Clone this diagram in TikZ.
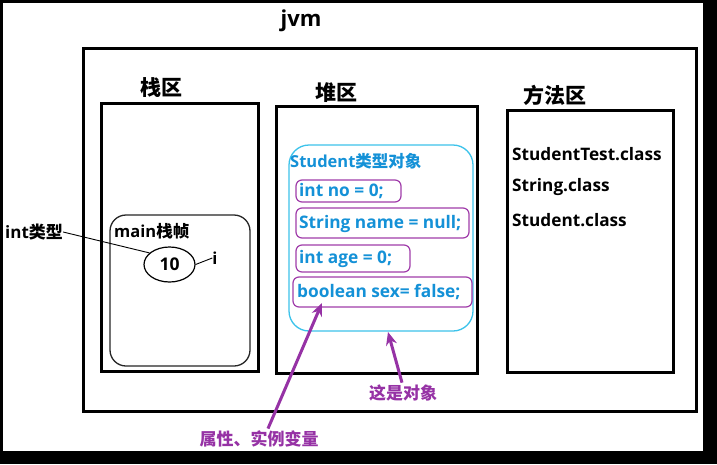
\documentclass[tikz,border=0pt]{standalone}
\usepackage{fontspec}
\setmainfont{Open Sans}
\newfontfamily\cjk{Noto Sans CJK SC}
\usetikzlibrary{arrows.meta,shapes.geometric,calc}
\definecolor{objblue}{RGB}{20,145,215}
\definecolor{objcyan}{RGB}{60,195,235}
\definecolor{attrpurple}{RGB}{160,60,170}
\definecolor{arrpurple}{RGB}{150,50,165}
\begin{document}
\begin{tikzpicture}[x=1pt,y=-1pt,
  area/.style={draw=black,line width=3pt},
  title/.style={font=\cjk\bfseries\fontsize{21}{24}\selectfont,inner sep=0pt},
  cls/.style={font=\bfseries\fontsize{17.2}{20}\selectfont,inner sep=0pt,anchor=west},
  attr/.style={draw=attrpurple,line width=1.2pt,rounded corners=6pt},
  attrtxt/.style={font=\bfseries\fontsize{17.3}{20}\selectfont,text=objblue,inner sep=0pt,anchor=west},
  note/.style={font=\cjk\bfseries\fontsize{17}{20}\selectfont,text=arrpurple,inner sep=0pt},
  parr/.style={draw=arrpurple,line width=3pt,-{Stealth[length=13pt,width=11pt]}},
  thin/.style={draw=black,line width=0.9pt}
]
\useasboundingbox (0,0) rectangle (717,464);
% outer frame
\fill[black] (0,0) rectangle (717,464);
\fill[white] (3,3) rectangle (703,451);
% jvm
\node[font=\bfseries\fontsize{22}{24}\selectfont,inner sep=0pt] (jvmlbl) at (301,21) {jvm};
\draw[area] (83.5,48.5) rectangle (696.5,411.5);
% stack area
\node[title] (stacklbl) at (161,88) {栈区};
\draw[area] (101.5,103.5) rectangle (258.5,371.5);
\draw[line width=1.3pt,draw=black!85,rounded corners=16pt] (110,215) rectangle (250,366);
\node[font=\bfseries\fontsize{16.5}{20}\selectfont,inner sep=0pt,anchor=west] (mainlbl) at (114,231) {main{\cjk 栈帧}};
\node[draw=black,line width=1.2pt,ellipse,minimum width=51pt,minimum height=35pt,inner sep=0pt,font=\bfseries\fontsize{17.5}{20}\selectfont] (ten) at (169.5,264.5) {10};
\node[font=\bfseries\fontsize{16.5}{20}\selectfont,inner sep=0pt] (ivar) at (215,258) {i};
\node[font=\bfseries\fontsize{17}{20}\selectfont,inner sep=0pt,anchor=west] (inttype) at (5,232) {int{\cjk 类型}};
\draw[thin] (inttype.east) -- (ten.150);
\draw[thin] (ten.east) -- (ivar.west);
% heap area
\node[title] (heaplbl) at (336,93) {堆区};
\draw[area] (276.5,106.5) rectangle (477.5,373.5);
\draw[draw=objcyan,line width=1.3pt,rounded corners=20pt] (289,145) rectangle (473,331);
\node[font=\bfseries\fontsize{16.5}{20}\selectfont,text=objblue,inner sep=0pt,anchor=west] (objlbl) at (290,161) {Student{\cjk 类型对象}};
\draw[attr] (296,180) rectangle (401,202);
\draw[attr] (296,208) rectangle (469,238);
\draw[attr] (296,245) rectangle (410,272);
\draw[attr] (293,277) rectangle (472,307);
\node[attrtxt] (ano) at (299,191) {int no = 0;};
\node[attrtxt] (aname) at (299,224) {String name = null;};
\node[attrtxt] (aage) at (299,259) {int age = 0;};
\node[attrtxt] (asex) at (297,292) {boolean sex= false;};
% method area
\node[title] (methlbl) at (555,95) {方法区};
\draw[area] (507.5,110.5) rectangle (673.5,372);
\node[cls] (c1) at (512,154) {StudentTest.class};
\node[cls] (c2) at (512,187) {String.class};
\node[cls] (c3) at (512,220) {Student.class};
% notes
\node[note] (attrnote) at (259,439) {属性、实例变量};
\node[note] (objnote) at (403,393) {这是对象};
\coordinate (attrtip) at (322,303);
\coordinate (objtip) at (388,332);
\draw[parr] ($(attrnote.north)+(9,-2)$) -- (attrtip);
\draw[parr] ($(objnote.north)+(-1,-2)$) -- (objtip);
\end{tikzpicture}
\end{document}
